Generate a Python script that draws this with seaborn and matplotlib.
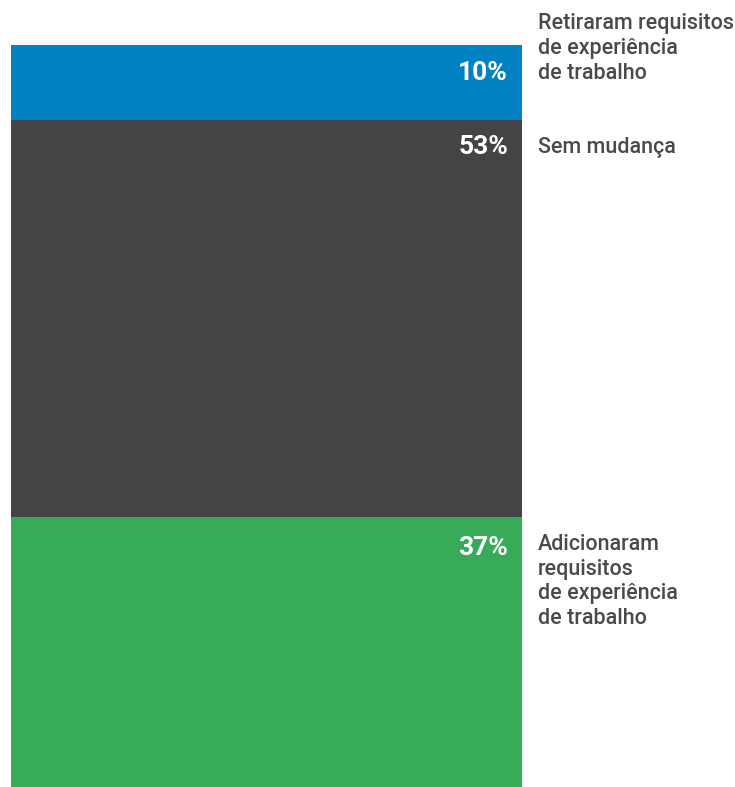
import matplotlib
matplotlib.use("Agg")
import matplotlib.pyplot as plt
import seaborn as sns
import numpy as np

# Segments listed from top of the bar to the bottom
categories = [
    "Retiraram requisitos\nde experiência\nde trabalho",
    "Sem mudança",
    "Adicionaram\nrequisitos\nde experiência\nde trabalho",
]
shares = [10, 53, 37]
pct_labels = ["10%", "53%", "37%"]
colors = ["#0282C3", "#464346", "#37AB58"]

sns.set_theme(style="white")
plt.rcParams["font.family"] = ["Roboto", "DejaVu Sans"]

W, H = 735, 787
fig = plt.figure(figsize=(W / 100, H / 100), dpi=100)
ax = fig.add_axes([11 / W, -7.5 / H, 511 / W, 750 / H])

# Cumulative tops of each segment (stacked from the bottom)
tops = np.cumsum(shares[::-1])[::-1]

# Draw taller stacks first so shorter ones sit in front
for top, col in zip(tops, colors):
    sns.barplot(x=["all"], y=[top], color=col, width=1.0, ax=ax,
                saturation=1, edgecolor="none", linewidth=0)

ax.set_xlim(-0.5, 0.5)
ax.set_ylim(0, 100)
ax.axis("off")

label_offsets = [(16, 31), (16, -17), (16, -17)]
pct_offsets = [-35, -34, -38]
for top, cat, pct, loff, poff in zip(tops, categories, pct_labels,
                                      label_offsets, pct_offsets):
    ax.annotate(pct, xy=(0.5, top), xytext=(-14, poff), textcoords="offset pixels",
                ha="right", va="baseline", color="white", fontsize=19,
                fontweight="bold", annotation_clip=False)
    ax.annotate(cat, xy=(0.5, top), xytext=loff, textcoords="offset pixels",
                ha="left", va="top", color="#4a4a4c", fontsize=15.5,
                fontweight="medium", linespacing=1.22, annotation_clip=False)

fig.savefig("out.png", dpi=100)
